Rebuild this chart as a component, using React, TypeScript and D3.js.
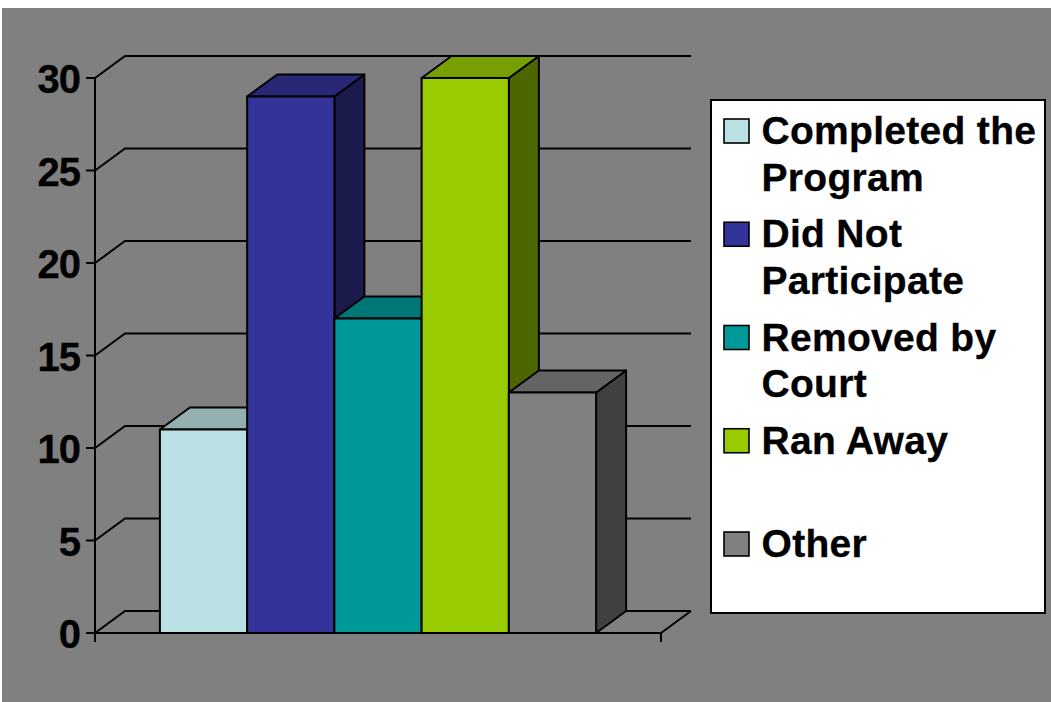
import * as d3 from 'd3'

const categories = ['Completed the Program', 'Did Not Participate', 'Removed by Court', 'Ran Away', 'Other']
const legendLines = [['Completed the', 'Program'], ['Did Not', 'Participate'], ['Removed by', 'Court'], ['Ran Away'], ['Other']]
const values = [11, 29, 17, 30, 13]
const colours = ['#BBE0E3', '#333399', '#009999', '#99CC00', '#808080']
const yTicks = [0, 5, 10, 15, 20, 25, 30]

const svgWidth = 1051
const svgHeight = 702
const depth = { x: 30, y: -22 }
const fontFamily = '"Liberation Sans", Arial, sans-serif'
const lineWidth = 2

const shade = (c: string, k: number) => {
    const rgb = d3.rgb(c)
    return d3.rgb(rgb.r * k, rgb.g * k, rgb.b * k).formatHex()
}

const App = () => {
    const x = d3.scaleBand<string>()
        .domain(categories)
        .range([95, 661])
        .paddingInner(0)
        .paddingOuter(0.744)
    const y = d3.scaleLinear().domain([0, 30]).range([633, 78])
    const legendY = d3.scaleLinear().domain([0, 4]).range([143, 556])

    const poly = (pts: [number, number][]) => (d3.line()(pts) as string) + 'Z'

    const grid = yTicks.map(t => (
        <g key={t}>
            <path
                d={`M ${x.range()[0] - 9} ${y(t)} H 95 L ${95 + depth.x} ${y(t) + depth.y} H ${661 + depth.x}`}
                fill="none"
                stroke="#000"
                strokeWidth={lineWidth}
            />
            <text
                x={80}
                y={y(t) + 15}
                textAnchor="end"
                fontSize={40}
                fontWeight="bold"
                fontFamily={fontFamily}
                letterSpacing={-1}
                stroke="#000"
                strokeWidth={0.3}
            >
                {t}
            </text>
        </g>
    ))

    const bars = categories.map((c, i) => {
        const x0 = x(c) as number
        const x1 = x0 + x.bandwidth()
        const top = y(values[i])
        const base = y(0)
        const edge = { stroke: '#000', strokeWidth: lineWidth, strokeLinejoin: 'round' as const }
        return (
            <g key={c}>
                <path
                    d={poly([[x1, base], [x1 + depth.x, base + depth.y], [x1 + depth.x, top + depth.y], [x1, top]])}
                    fill={shade(colours[i], 0.5)}
                    {...edge}
                />
                <path
                    d={poly([[x0, top], [x0 + depth.x, top + depth.y], [x1 + depth.x, top + depth.y], [x1, top]])}
                    fill={shade(colours[i], 0.78)}
                    {...edge}
                />
                <rect x={x0} y={top} width={x.bandwidth()} height={base - top} fill={colours[i]} {...edge} />
            </g>
        )
    })

    const legend = categories.map((c, i) => (
        <g key={c}>
            <rect
                x={724}
                y={legendY(i) - 24}
                width={25}
                height={24}
                fill={colours[i]}
                stroke="#000"
                strokeWidth={1.6}
            />
            {legendLines[i].map((line, j) => (
                <text
                    key={line}
                    x={761.5}
                    y={legendY(i) + 1 + j * 46.5}
                    fontSize={39}
                    fontWeight="bold"
                    fontFamily={fontFamily}
                    letterSpacing={0.3}
                    stroke="#000"
                    strokeWidth={0.3}
                >
                    {line}
                </text>
            ))}
        </g>
    ))

    return (
        <svg
            width={svgWidth}
            height={svgHeight}
            style={{ position: 'absolute', left: 0, top: 0, background: '#fff' }}
        >
            <rect x={2} y={8} width={svgWidth - 2} height={svgHeight - 8} fill="#808080" />
            {grid}
            <path d={`M 95 ${y(30)} V ${y(0) + 9}`} stroke="#000" strokeWidth={lineWidth} fill="none" />
            <path
                d={`M 95 ${y(0)} H 661 V ${y(0) + 9} M 661 ${y(0)} L ${661 + depth.x} ${y(0) + depth.y}`}
                stroke="#000"
                strokeWidth={lineWidth}
                fill="none"
            />
            {bars}
            <rect x={711} y={100} width={334} height={513} fill="#fff" stroke="#000" strokeWidth={lineWidth} />
            {legend}
        </svg>
    )
}

export default App
